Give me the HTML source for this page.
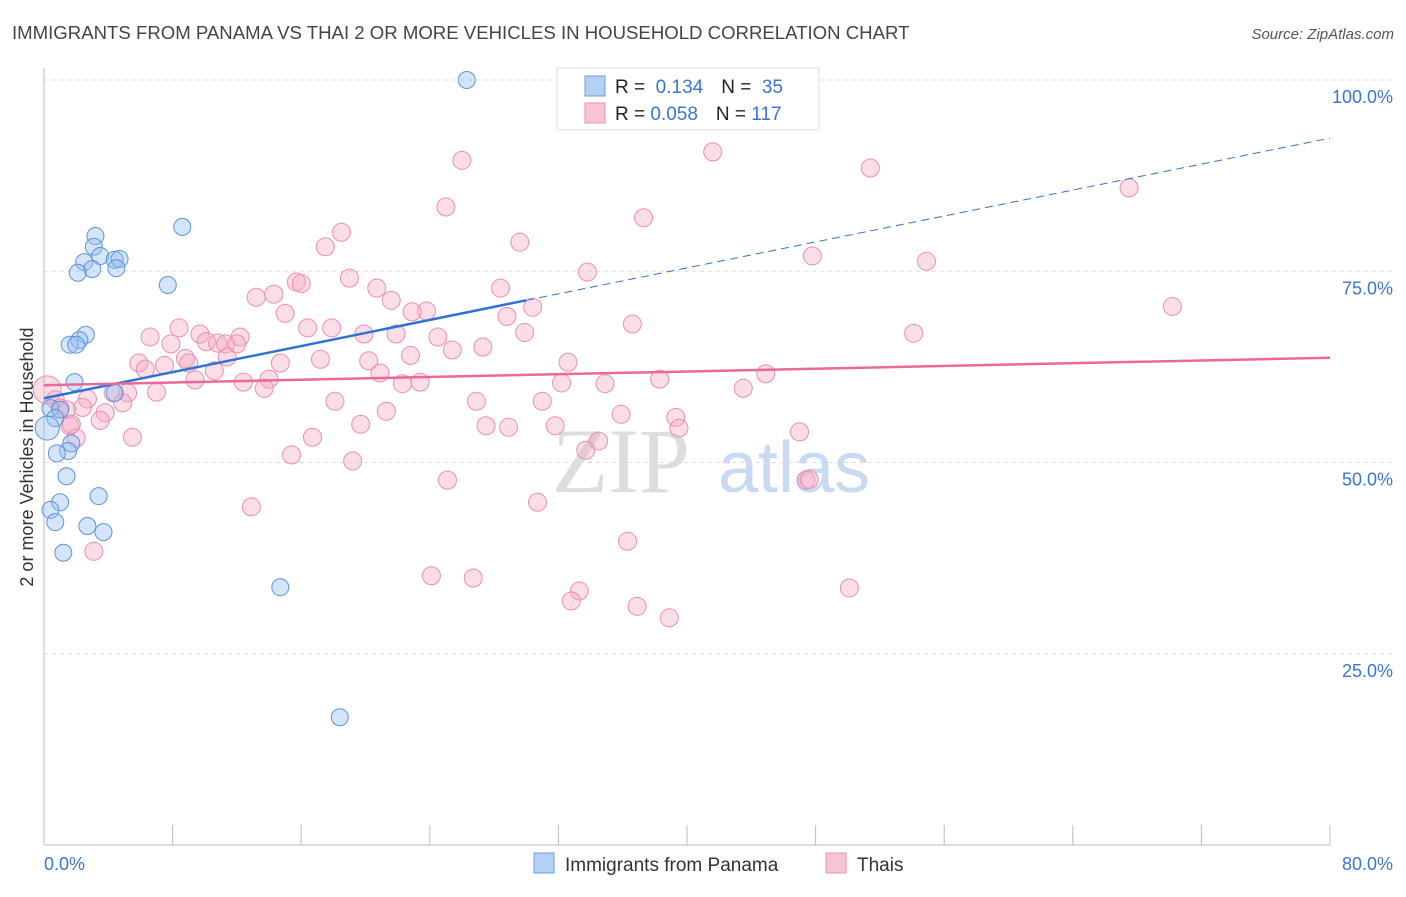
<!DOCTYPE html>
<html><head><meta charset="utf-8"><style>
body{margin:0;background:#fff;font-family:"Liberation Sans",sans-serif}
</style></head><body>
<svg id="chart" width="1406" height="892" xmlns="http://www.w3.org/2000/svg" font-family="Liberation Sans, sans-serif">
<text x="12" y="39" font-size="18.6" fill="#444">IMMIGRANTS FROM PANAMA VS THAI 2 OR MORE VEHICLES IN HOUSEHOLD CORRELATION CHART</text>
<text x="1394" y="39" font-size="15" fill="#555" text-anchor="end" font-style="italic">Source: ZipAtlas.com</text>
<g><text x="552" y="492" font-size="92" fill="#ddd" font-family="Liberation Serif, serif">ZIP</text><text x="718" y="492" font-size="72" fill="#c8daf2">atlas</text></g>
<g id="grid"></g><g id="axes"></g><g id="pts"></g><g id="trends"></g>
<text transform="translate(33,457) rotate(-90)" font-size="18" fill="#333" text-anchor="middle">2 or more Vehicles in Household</text>
<g>
<rect x="557" y="68" width="262" height="62" fill="#fff" stroke="#ddd"/>
<rect x="585" y="76" width="20" height="20" fill="#b4d0f4" stroke="#6a9fe0"/>
<rect x="585" y="103" width="20" height="20" fill="#f8c4d4" stroke="#ec8fae"/>
<text x="615" y="93" font-size="19" fill="#222">R = <tspan fill="#3a75d0">&#160;0.134</tspan><tspan dx="18">N = </tspan><tspan fill="#3a75d0">&#160;35</tspan></text>
<text x="615" y="120" font-size="19" fill="#222">R = <tspan fill="#3a75d0">0.058</tspan><tspan dx="18">N = </tspan><tspan fill="#3a75d0">117</tspan></text>
</g>
<g>
<rect x="534" y="853" width="20" height="20" fill="#b4d0f4" stroke="#6a9fe0"/>
<text x="565" y="871" font-size="19" fill="#333">Immigrants from Panama</text>
<rect x="826" y="853" width="20" height="20" fill="#f8c4d4" stroke="#ec8fae"/>
<text x="857" y="871" font-size="19" fill="#333">Thais</text>
</g>
</svg>
<script>
const yTicks=[25,50,75,100];
const yTickLabels=["25.0%","50.0%","75.0%","100.0%"];
const xTickVals=[0,8,16,24,32,40,48,56,64,72,80];
const xEndLabels=["0.0%","80.0%"];
const panamaX=[26.3,8.6,3.2,3.1,3.5,2.5,4.4,4.7,3.0,2.1,4.5,7.7,2.6,2.2,1.6,2.0,1.9,4.4,0.4,1.0,0.7,0.2,1.7,1.5,0.8,1.4,3.4,1.0,0.4,0.7,2.7,3.7,1.2,14.7,18.4];
const panamaY=[100,80.8,79.6,78.2,77.0,76.2,76.5,76.6,75.3,74.8,75.4,73.2,66.7,66.0,65.4,65.4,60.5,59.1,57.1,56.9,55.8,54.5,52.5,51.5,51.2,48.2,45.6,44.8,43.8,42.2,41.7,40.9,38.2,33.7,16.7];
const thaiX=[26.0,41.6,51.4,67.5,25.0,37.3,18.5,29.6,17.5,47.8,54.9,33.8,19.0,15.7,16.0,20.7,28.4,14.3,13.2,21.6,70.2,30.4,15.0,23.8,22.9,28.8,36.6,8.4,16.4,17.9,9.7,6.6,12.2,19.9,29.9,21.9,54.1,24.5,10.1,10.8,11.3,12.0,7.9,27.3,25.4,22.8,17.2,8.8,11.4,9.0,5.9,7.5,14.7,20.2,32.6,6.3,10.6,20.9,44.9,14.0,38.3,9.4,12.4,23.4,22.3,32.2,34.9,43.5,13.7,7.0,5.2,4.3,4.9,2.7,18.1,26.9,31.0,2.4,3.8,21.3,35.9,39.3,3.5,1.6,19.7,27.5,28.9,31.8,39.5,47.0,5.5,16.7,2.0,34.5,33.7,15.4,19.2,25.1,47.4,47.6,30.7,12.9,36.3,3.1,24.1,26.7,33.3,50.1,32.8,36.9,38.9,0.2,0.7,1.0,1.4,1.7];
const thaiY=[89.5,90.6,88.5,85.9,83.4,82.0,80.1,78.8,78.2,77.0,76.3,74.9,74.1,73.6,73.4,72.8,72.8,72.0,71.6,71.2,70.4,70.3,69.5,69.8,69.7,69.1,68.1,67.6,67.6,67.6,66.8,66.4,66.4,66.8,67.0,66.8,66.9,66.4,65.8,65.6,65.5,65.5,65.5,65.1,64.7,64.0,63.5,63.6,63.8,63.0,63.0,62.7,63.0,63.3,63.1,62.2,62.0,61.7,61.6,60.9,60.9,60.8,60.5,60.5,60.3,60.4,60.3,59.7,59.7,59.2,59.1,59.1,57.8,58.3,58.0,58.0,58.0,57.2,56.5,56.7,56.3,55.9,55.5,54.8,55.0,54.8,54.6,54.8,54.5,54.0,53.3,53.3,53.2,52.8,51.6,51.0,50.2,47.7,47.7,47.8,44.8,44.2,39.7,38.4,35.2,34.9,33.2,33.6,31.9,31.2,29.7,59.5,58.2,57.1,56.9,55.0];
const panamaTrend=[0,58.4,30.0,71.2,80,92.4];
const thaiTrend=[0,60.1,80,63.7];
const NS="http://www.w3.org/2000/svg";
const X0=44,X1=1330,Y0=845,Y100=80;
const sx=v=>X0+(v/80)*(X1-X0);
const sy=v=>Y0-(v/100)*(Y0-Y100);
function mk(tag,attrs,parent){const e=document.createElementNS(NS,tag);for(const k in attrs)e.setAttribute(k,attrs[k]);document.getElementById(parent).appendChild(e);return e;}
yTicks.forEach((t,i)=>{
 const g=mk('line',{x1:X0,x2:1394,y1:sy(t),y2:sy(t),stroke:'#ddd','stroke-dasharray':'4,4'},'grid');
 
 
 const l=mk('text',{x:1393,y:sy(t)+23,'text-anchor':'end','font-size':18,fill:'#3a75d0'},'grid');
 l.textContent=yTickLabels[i];
 
 
});
const ax=mk('line',{x1:X0,x2:X0,y1:68,y2:Y0,stroke:'#bbb'},'axes');


const bx=mk('line',{x1:X0,x2:X1,y1:Y0,y2:Y0,stroke:'#bbb'},'axes');


xTickVals.forEach(t=>{
 const tk=mk('line',{x1:sx(t),x2:sx(t),y1:825,y2:Y0,stroke:'#bbb'},'axes');
 
 
});
const xl0=mk('text',{x:44,y:870,'font-size':18,fill:'#3a75d0'},'axes');xl0.textContent=xEndLabels[0];


const xl1=mk('text',{x:1393,y:870,'font-size':18,fill:'#3a75d0','text-anchor':'end'},'axes');xl1.textContent=xEndLabels[1];


thaiX.forEach((x,i)=>{
 const big=(i===thaiX.length-5);
 const c=mk('circle',{cx:sx(x),cy:sy(thaiY[i]),r:big?14:9,fill:'rgba(245,170,195,0.4)',stroke:'#ec8fae','stroke-width':1},'pts');
 
 
});
panamaX.forEach((x,i)=>{
 const big=(i===21);
 const c=mk('circle',{cx:sx(x),cy:sy(panamaY[i]),r:big?12:8.5,fill:'rgba(150,190,240,0.4)',stroke:'#5b93dc','stroke-width':1},'pts');
 
 
});
const pt1=mk('line',{x1:sx(panamaTrend[0]),y1:sy(panamaTrend[1]),x2:sx(panamaTrend[2]),y2:sy(panamaTrend[3]),stroke:'#2f72d6','stroke-width':2.5},'trends');


const pt2=mk('line',{x1:sx(panamaTrend[2]),y1:sy(panamaTrend[3]),x2:sx(panamaTrend[4]),y2:sy(panamaTrend[5]),stroke:'#2f72d6','stroke-width':1,'stroke-dasharray':'8,5'},'trends');


const tt=mk('line',{x1:sx(thaiTrend[0]),y1:sy(thaiTrend[1]),x2:sx(thaiTrend[2]),y2:sy(thaiTrend[3]),stroke:'#e8699a','stroke-width':2.5},'trends');


</script>
</body></html>
